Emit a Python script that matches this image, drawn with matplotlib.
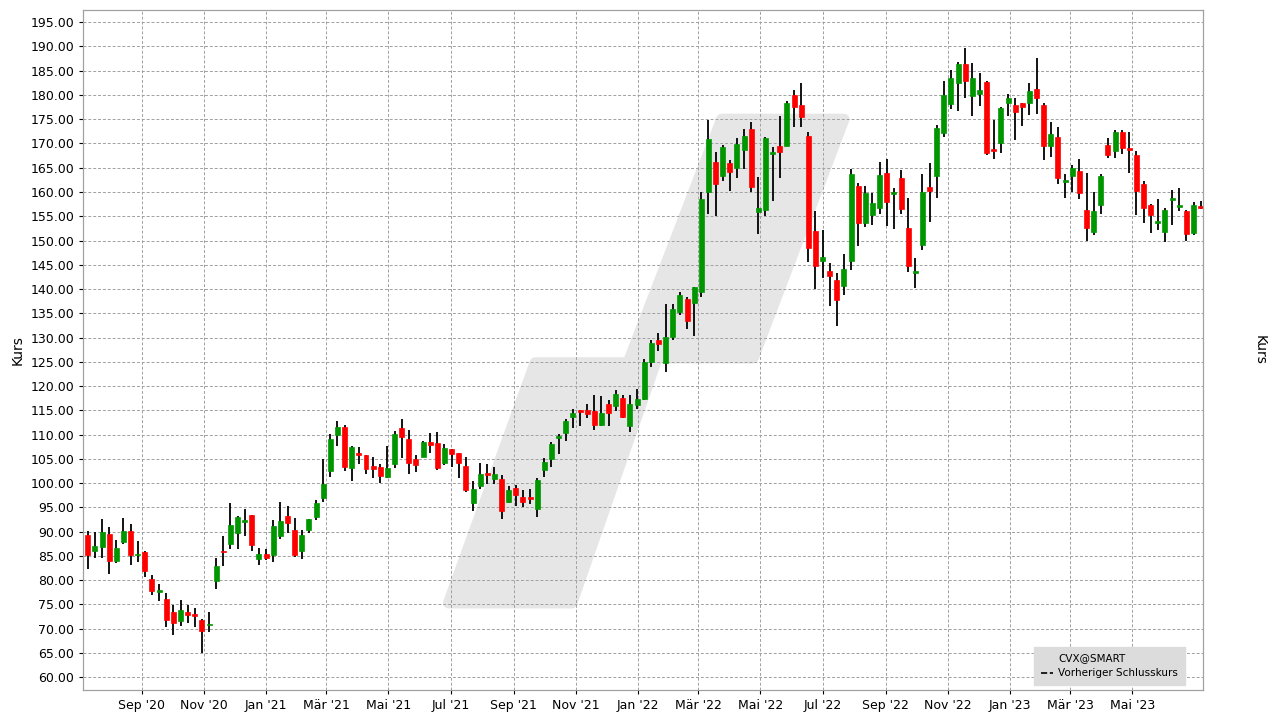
import matplotlib
matplotlib.use("Agg")
import matplotlib.pyplot as plt
import matplotlib.dates as mdates
import numpy as np
import datetime as dt
from matplotlib.patches import Polygon
from matplotlib.lines import Line2D

# weekly candles, CVX
start = dt.date(2020, 7, 10)
opens = [89.4,85.9,86.8,89.5,83.9,87.8,90.2,85.1,85.7,80.3,
77.5,76.2,73.5,71.5,73.5,73.1,71.7,70.7,79.9,86.1,
87.4,89.8,92,93.4,84.3,85.4,85.1,89,93.3,90.4,
86,90.3,93,96.9,102.5,110,111.5,103.1,106.3,105.7,
103.5,103.3,101.2,104,111.3,109,104.9,105.3,108.4,108.2,
104.1,107,106.2,103.5,95.9,99.4,102,100.8,100.8,96.1,
99,97.1,97.1,94.7,102.7,104.9,109.2,110.3,113.6,115,
115,114.8,111.9,116.2,115.8,117.5,111.7,116,117.3,124.9,
129.5,124.8,130.1,135.3,137.9,137.2,139.4,160.1,166.2,163.2,
165.9,165,168.7,173,155.8,156.3,167.9,169.4,169.5,180,
178,171.5,152,145.8,143.7,141.8,140.7,145.8,161.2,153.7,
155.3,156.8,163.9,159.6,162.9,152.6,143.3,149,161,163.4,
172.2,178.2,182.5,186.3,179.8,180.2,182.6,168.8,170.1,178.4,
177.9,178.3,178.4,181.2,177.9,169.5,171.3,162.1,163.2,164.3,
156.3,151.8,157.4,169.7,168.5,172.3,169.1,167.6,161.6,157.3,
153.7,151.8,158.4,157,156.1,151.6,157.1]
closes = [85.1,87.1,90,83.9,86.7,90.2,85.1,85.4,81.8,77.7,
78,71.7,71.1,73.9,72.8,72.6,69.5,71,83,85.7,
91.3,93.1,92.4,87.2,85.3,84.5,91.1,92.1,91.8,85.1,
89.2,92.5,95.8,99.9,109,111.5,103.3,107.4,105.8,102.9,
102.9,101.5,103.1,110.1,109.5,104.1,103.8,108.4,107.9,103.1,
107.2,106,104.1,98.6,98.8,101.8,101.6,101.8,94.2,98.6,
97.5,96.1,96.7,100.6,104.3,108,109.7,112.7,114.4,114.6,
114.2,111.9,114.4,114.4,118.3,113.6,116.4,117.3,124.9,128.8,
128.6,130.1,135.8,138.7,133.4,140.4,158.5,170.9,161.7,169.3,
164.2,169.9,171.5,161,156.8,171.1,168.2,168.2,178.3,177.6,
175.5,148.5,144.8,146.6,142.7,137.8,144.1,163.7,153.7,159.8,
157.7,163.5,158,160,156.6,144.8,143.7,159.9,160.3,173.2,
179.9,183.4,186.3,182.9,183.6,181,168,168.5,177.3,179.3,
176.5,177.5,180.8,179.4,169.5,171.9,162.9,162.5,165,159.7,
152.5,156.1,163.2,167.7,172.3,169.1,168.7,160.3,156.8,155.3,
154,156.3,158.7,157.3,151.4,157.3,156.8]
highs = [90.2,90,92.7,91,88.3,92.9,91.5,88,85.9,81,
79.3,77.4,74.8,76,74.8,74.3,72,73.5,84.5,89,
95.8,93.3,94.6,93.5,86.7,86.5,92.3,96.2,95.3,92.9,
90.4,92.7,96.6,104.9,110.2,112.7,111.9,107.6,107.4,105.7,
105.3,103.9,107.6,110.7,113.2,110.9,105.8,108.6,110.3,110.5,
108,107.1,106.2,105.3,100.4,104.1,103.9,103.3,101.6,99.4,
99.6,98.6,98.8,101,105.1,108.4,110.1,113.2,115.2,115,
116.2,118.1,117.9,117.1,119.1,118.1,118.1,119.3,125.5,129.5,
131,136.9,136.9,139.4,138.3,140.5,160,174.9,168.3,169.6,
166.6,171.1,173,174.4,163.1,171.3,169.2,175.7,178.8,181,
182.5,172.4,156,152.2,145.3,143.4,147.2,164.7,161.8,161.2,
159.8,166.2,166.8,160.8,164.5,158.8,146.4,163.8,165.9,173.8,
182.9,185.2,186.9,189.7,186.5,184.5,182.8,174.8,177.5,180.1,
179.3,178.3,182.4,187.7,178.3,174.4,173.4,163.7,165.5,166.8,
163.9,160.1,163.7,171.2,172.7,172.7,172.3,168.5,162.3,157.5,
158.6,156.7,160.4,160.8,156.3,157.9,158.1]
lows = [82.2,84.6,84.6,81.2,83.5,87.4,83.2,83.7,80.6,76.9,
75.7,70.3,68.6,70.5,71.1,70.3,65,69.3,78.1,82.9,
86.5,86.5,89,86,83.2,84.2,83.7,88.5,89.7,84.7,
84.3,89.7,92.4,96.2,101.2,107.6,102.5,100.4,103.9,101.9,
101,100,101,103.2,105.1,101.9,102.3,105.3,106.2,102.7,
103.7,103.3,101,98.2,94.2,98.8,99.8,99.8,92.6,95.9,
95.3,95.1,95.7,93,101.2,103.3,106,108.6,111.3,111.7,
113.4,110.9,111.7,111.7,114.8,113.4,110.5,115.2,117.1,124,
127.2,123,129.5,134.6,131.8,130.3,138.4,155.4,155,162.3,
160.3,162.9,164.8,160,151.3,155,158.1,162.8,169.5,173.3,
173.5,145.6,140,142.2,136.5,132.4,138.8,144,148.9,152.8,
153.2,155.5,153,152.4,155.5,143.5,140.2,148.1,153.9,158.8,
171.4,177.1,176.8,179.4,175.7,177.7,167.6,166.8,168.1,175.7,
170.8,173.6,175.9,176.1,166.6,167.3,161.7,158.8,160.1,158.6,
149.8,151.2,155.5,167.1,167.1,167.9,164,155.3,153.7,151.5,
152.1,149.6,153.1,156,150,151.2,156.5]

month_names = ["Jan", "Feb", "Mär", "Apr", "Mai", "Jun", "Jul", "Aug", "Sep", "Okt", "Nov", "Dez"]

# shaded trend channel (date, price) vertices
channel_low = [("2021-06-29", 75.3), ("2021-10-28", 75.3), ("2022-01-18", 124.8), ("2021-09-22", 124.8)]
channel_high = [("2021-12-24", 125.8), ("2022-04-24", 125.8), ("2022-07-22", 175), ("2022-03-24", 175)]

dates = [start + dt.timedelta(weeks=i) for i in range(len(opens))]
x = mdates.date2num(dates)

fig = plt.figure(figsize=(12.8, 7.2), dpi=100)
ax = fig.add_axes([0.065, 0.042, 0.875, 0.944])

for verts in (channel_low, channel_high):
    pts = [(mdates.date2num(dt.date.fromisoformat(d)), p) for d, p in verts]
    ax.add_patch(Polygon(pts, closed=True, facecolor="#e6e6e6", edgecolor="#e6e6e6",
                         lw=8, joinstyle="round", zorder=0))

o, h, l, c = map(np.array, (opens, highs, lows, closes))
up = c >= o
cols = np.where(up, "#009600", "#ff0000")
ax.vlines(x, l, h, color="black", lw=1.3, zorder=2)
ax.bar(x, np.maximum(np.abs(c - o), 0.35), bottom=np.minimum(o, c), width=4.9,
       color=cols, edgecolor=cols, lw=0.5, zorder=3)

ax.set_xlim(x[0] - 4.5, x[-1] + 2.5)
ax.set_ylim(57.4, 197.5)
ax.set_yticks(np.arange(60, 196, 5))
ax.yaxis.set_major_formatter(matplotlib.ticker.FormatStrFormatter("%.2f"))
ax.tick_params(axis="y", which="both", right=True, labelright=True, labelsize=9, length=3)
ax.tick_params(axis="x", labelsize=9, length=3)
ax.set_ylabel("Kurs", fontsize=10)
ax2 = ax.twinx()
ax2.set_ylim(ax.get_ylim())
ax2.set_yticks([])
ax2.set_ylabel("Kurs", fontsize=10, rotation=270, labelpad=46)

month_ticks = [dt.date(y, m, 1) for y in (2020, 2021, 2022, 2023) for m in (1, 3, 5, 7, 9, 11)]
month_ticks = [d for d in month_ticks if dt.date(2020, 8, 1) < d < dt.date(2023, 6, 15)]
ax.set_xticks(mdates.date2num(month_ticks))
ax.set_xticklabels(["%s '%s" % (month_names[d.month - 1], d.strftime("%y")) for d in month_ticks])
ax.grid(True, color="#a0a0a0", linestyle=(0, (3, 2)), lw=0.7)
for s in list(ax.spines.values()) + list(ax2.spines.values()):
    s.set_color("#a0a0a0")

handles = [Line2D([], [], color="none"), Line2D([], [], color="black", ls="--", lw=1.2)]
leg = ax.legend(handles, ["CVX@SMART", "Vorheriger Schlusskurs"], loc="lower right",
                bbox_to_anchor=(0.988, 0.0), fontsize=7.5, frameon=True, fancybox=False,
                facecolor="#dcdcdc", edgecolor="#dcdcdc", framealpha=1, handlelength=1.2,
                handletextpad=0.5, borderpad=0.6, labelspacing=0.5)

fig.savefig("out.png", dpi=100)
